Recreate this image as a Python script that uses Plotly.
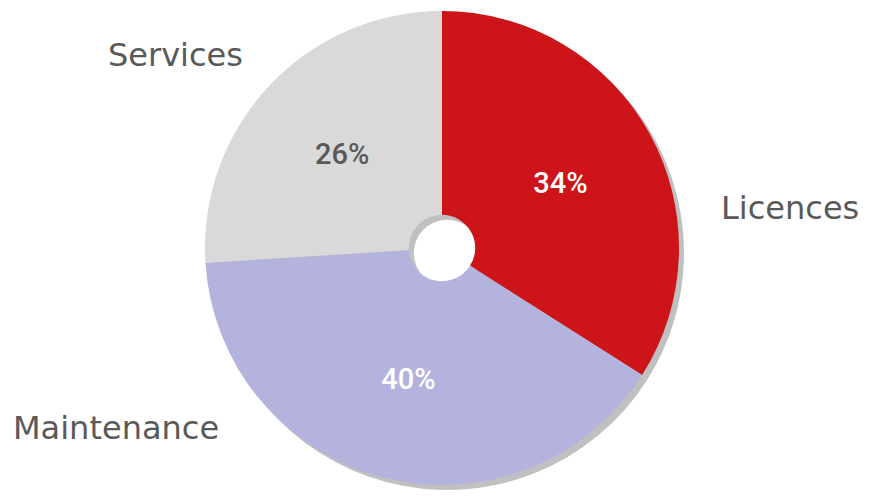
import plotly.graph_objects as go

categories = ["Licences", "Maintenance", "Services"]
values = [34, 40, 26]
colors = ["#cc1419", "#b3b3de", "#d9d9d9"]
text_colors = ["#ffffff", "#ffffff", "#595959"]

W, H = 869, 496
pad = 8  # page body margin
cx, cy, r = 442 - pad, 248 - pad, 237
off = 5

def dom(x0, y0):
    return dict(x=[(x0 - r) / W, (x0 + r) / W], y=[(H - y0 - r) / H, (H - y0 + r) / H])

fig = go.Figure()
# shadow
fig.add_trace(go.Pie(
    labels=categories, values=values, sort=False, direction="clockwise", rotation=0,
    hole=0.14, domain=dom(cx + off, cy + off),
    marker=dict(colors=["#c0c0c0"] * 3, line=dict(width=0)),
    textinfo="none", hoverinfo="skip", showlegend=False,
))
fig.add_trace(go.Pie(
    labels=categories, values=values, sort=False, direction="clockwise", rotation=0,
    hole=0.14, domain=dom(cx, cy),
    marker=dict(colors=colors, line=dict(width=0)),
    textinfo="percent", textposition="inside", insidetextorientation="horizontal",
    insidetextfont=dict(family="Roboto", size=29, color=text_colors, weight=500),
    hoverinfo="label+percent", showlegend=False,
))

label_pos = {"Licences": (790, 208), "Services": (175, 55), "Maintenance": (116, 428)}
for name in categories:
    x, y = label_pos[name]
    fig.add_annotation(x=(x - pad) / W, y=1 - (y - pad) / H, xref="paper", yref="paper",
                       xanchor="center", yanchor="middle", text=name, showarrow=False,
                       font=dict(family="DejaVu Sans", size=32, color="#595959"))

fig.update_layout(width=W, height=H, margin=dict(l=0, r=0, t=0, b=0),
                  paper_bgcolor="white", plot_bgcolor="white")
fig.write_html("out.html")
